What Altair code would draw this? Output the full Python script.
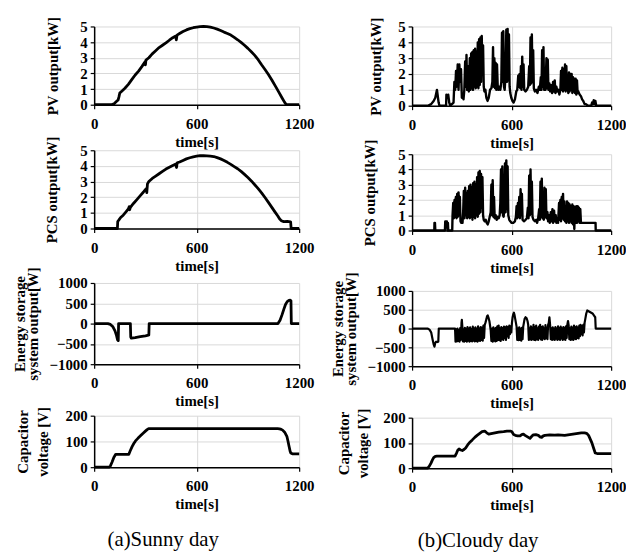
import altair as alt
import pandas as pd

FONT = "Liberation Serif"

# ---------------- data: (time [s], value) ----------------
PV_SUNNY = [(0, 0), (100, 0), (115, 0.05), (130, 0.2), (140, 0.3), (145, 0.5), (150, 0.75), (160, 0.85),
            (180, 1.05), (200, 1.3), (220, 1.6), (240, 1.9), (260, 2.15), (280, 2.45), (298, 2.75), (300, 2.55),
            (303, 2.85), (320, 3.0), (340, 3.25), (360, 3.45), (380, 3.65), (400, 3.8), (420, 3.95), (440, 4.12),
            (460, 4.28), (478, 4.4), (481, 4.15), (485, 4.45), (500, 4.55), (520, 4.68), (540, 4.78), (560, 4.86),
            (580, 4.92), (600, 4.96), (620, 4.99), (640, 5.0), (660, 4.99), (680, 4.96), (700, 4.9), (720, 4.83),
            (740, 4.74), (760, 4.64), (780, 4.55), (800, 4.45), (820, 4.3), (840, 4.15), (860, 3.98), (880, 3.8),
            (900, 3.6), (920, 3.38), (940, 3.15), (960, 2.88), (980, 2.55), (1000, 2.25), (1020, 1.93),
            (1040, 1.58), (1060, 1.2), (1080, 0.82), (1100, 0.43), (1115, 0.15), (1125, 0), (1200, 0)]

PCS_SUNNY = [(0, 0), (136, 0), (138, 0.45), (145, 0.55), (155, 0.7), (170, 0.85), (185, 1.05), (200, 1.25),
             (205, 1.4), (208, 1.2), (212, 1.35), (230, 1.6), (250, 1.85), (270, 2.1), (290, 2.35), (305, 2.55),
             (308, 2.3), (312, 2.85), (320, 3.0), (340, 3.2), (360, 3.35), (380, 3.5), (400, 3.65), (420, 3.8),
             (440, 3.92), (460, 4.03), (478, 4.12), (482, 3.9), (486, 4.2), (500, 4.25), (520, 4.35), (540, 4.45),
             (560, 4.52), (580, 4.58), (600, 4.62), (620, 4.65), (640, 4.66), (660, 4.64), (680, 4.62), (700, 4.6),
             (720, 4.53), (740, 4.45), (760, 4.35), (780, 4.23), (800, 4.1), (820, 3.96), (840, 3.82), (860, 3.65),
             (880, 3.46), (900, 3.26), (920, 3.04), (940, 2.8), (960, 2.55), (980, 2.28), (1000, 1.98),
             (1020, 1.67), (1040, 1.35), (1060, 1.03), (1075, 0.8), (1085, 0.62), (1095, 0.5), (1110, 0.44),
             (1130, 0.45), (1150, 0.42), (1153, 0), (1200, 0)]

ESS_SUNNY = [(0, 0), (80, 0), (95, -20), (110, -80), (122, -180), (130, -280), (137, -400), (141, -420),
             (143, 0), (212, 0), (214, -330), (218, -360), (240, -345), (270, -320), (300, -300), (318, -285),
             (320, -280), (322, 0), (1076, 0), (1088, 80), (1100, 220), (1110, 350), (1120, 470), (1130, 540),
             (1140, 570), (1148, 575), (1152, 560), (1154, 0), (1200, 0)]

CAP_SUNNY = [(0, 0), (87, 0), (95, 5), (105, 20), (115, 38), (126, 50), (203, 50), (210, 62), (222, 80),
             (232, 92), (242, 102), (256, 112), (271, 122), (285, 131), (300, 140), (310, 146), (319, 150),
             (1073, 150), (1085, 149), (1095, 147), (1103, 144), (1115, 136), (1128, 120), (1135, 100),
             (1141, 80), (1147, 62), (1151, 55), (1160, 52), (1200, 52)]

PV_CLOUDY = [(0, 0), (95, 0), (115, 0.1), (130, 0.3), (140, 0.5), (150, 1.0), (155, 0.6), (160, 0.2), (165, 0),
             (205, 0), (207, 0.7), (212, 0.5), (218, 0.7), (224, 0.2), (230, 0), (250, 0.2), (255, 1.5),
             (260, 1.0), (265, 2.2), (270, 1.2), (275, 2.6), (280, 1.0), (285, 2.6), (290, 1.5), (295, 2.3),
             (300, 0.5), (305, 0.7), (310, 0.4), (315, 1.0), (320, 2.8), (325, 1.2), (328, 3.2), (332, 1.0),
             (338, 2.5), (342, 0.9), (348, 3.0), (352, 1.0), (356, 3.3), (360, 1.1), (364, 3.4), (368, 1.0),
             (372, 3.5), (376, 1.2), (380, 3.6), (384, 1.1), (388, 3.4), (392, 1.2), (396, 4.0), (400, 1.1),
             (404, 4.2), (408, 1.3), (412, 4.3), (416, 1.5), (420, 4.4), (424, 2.0), (428, 3.8), (432, 1.2),
             (436, 0.9), (442, 1.0), (448, 0.5), (455, 0.3), (462, 0.5), (470, 1.0), (478, 1.1), (484, 1.5),
             (488, 3.7), (492, 1.2), (496, 3.0), (500, 1.1), (504, 2.7), (508, 1.0), (512, 2.6), (516, 1.3),
             (520, 1.0), (526, 1.2), (532, 1.0), (538, 1.5), (542, 4.6), (546, 1.5), (550, 4.7), (554, 1.2),
             (558, 1.0), (564, 2.0), (568, 4.8), (572, 1.5), (576, 4.85), (580, 1.6), (584, 4.5), (588, 1.2),
             (592, 0.8), (598, 0.5), (605, 0.3), (612, 0.2), (620, 0.4), (628, 0.9), (634, 1.0), (640, 1.9),
             (644, 1.2), (648, 2.0), (652, 1.1), (656, 2.5), (660, 1.0), (664, 3.1), (668, 1.2), (672, 2.6),
             (676, 1.0), (684, 0.9), (692, 1.0), (700, 1.2), (706, 2.5), (710, 1.3), (714, 4.3), (718, 1.4),
             (722, 4.5), (726, 1.5), (730, 3.5), (734, 1.1), (740, 0.9), (748, 1.0), (756, 0.8), (764, 1.2),
             (770, 1.0), (776, 1.8), (780, 1.0), (784, 3.5), (788, 1.2), (792, 3.7), (796, 1.0), (800, 2.0),
             (804, 1.0), (810, 3.0), (814, 1.1), (818, 2.9), (822, 1.0), (828, 1.4), (832, 0.9), (838, 1.3),
             (844, 0.8), (850, 1.5), (854, 0.9), (860, 1.6), (864, 0.8), (870, 1.2), (876, 0.9), (882, 1.0),
             (888, 0.7), (894, 1.0), (898, 2.2), (902, 1.0), (906, 2.4), (910, 0.9), (914, 2.3), (918, 1.0),
             (922, 2.6), (926, 0.9), (930, 2.5), (934, 1.0), (938, 1.2), (942, 0.8), (946, 2.1), (950, 0.9),
             (954, 2.0), (958, 1.0), (962, 2.0), (966, 0.8), (970, 1.8), (974, 0.9), (978, 1.7), (982, 0.8),
             (986, 1.7), (990, 0.7), (994, 1.6), (998, 0.8), (1002, 0.9), (1010, 0.7), (1018, 0.6), (1025, 0.4),
             (1032, 0.3), (1040, 0.1), (1048, 0.1), (1060, 0), (1080, 0), (1085, 0.2), (1090, 0.1), (1095, 0.35),
             (1100, 0.1), (1105, 0.3), (1110, 0), (1200, 0)]

PCS_CLOUDY = [(0, 0), (134, 0), (135, 0.5), (138, 0.5), (140, 0), (198, 0), (200, 0.6), (210, 0.6), (214, 0),
              (216, 0.5), (218, 0), (242, 0), (244, 1.0), (248, 1.8), (252, 0.8), (256, 2.0), (260, 0.9),
              (264, 2.2), (268, 0.8), (272, 2.4), (276, 0.9), (280, 2.5), (284, 1.0), (288, 2.2), (292, 0.6),
              (296, 0.5), (300, 0.7), (304, 0.5), (308, 1.2), (312, 2.6), (316, 0.8), (320, 2.8), (324, 1.0),
              (328, 2.4), (332, 0.8), (336, 2.6), (340, 0.9), (344, 2.9), (348, 0.8), (352, 3.0), (356, 0.9),
              (360, 2.8), (364, 0.7), (368, 3.1), (372, 0.9), (376, 3.2), (380, 0.8), (384, 3.0), (388, 1.0),
              (392, 3.5), (396, 0.9), (400, 3.8), (404, 1.1), (408, 3.9), (412, 1.2), (416, 3.7), (420, 1.5),
              (424, 3.5), (428, 1.0), (432, 0.7), (438, 0.6), (444, 0.7), (450, 0.5), (456, 0.4), (462, 0.6),
              (468, 0.9), (474, 1.2), (478, 3.0), (482, 1.0), (486, 3.3), (490, 0.9), (494, 2.2), (498, 0.8),
              (504, 1.0), (510, 0.7), (516, 0.9), (522, 0.8), (528, 1.0), (532, 1.8), (536, 4.0), (540, 1.2),
              (544, 4.2), (548, 1.0), (552, 0.9), (556, 1.5), (560, 4.4), (564, 1.2), (568, 4.6), (572, 1.4),
              (576, 4.2), (580, 1.0), (586, 0.7), (592, 0.6), (600, 0.5), (610, 0.5), (620, 0.6), (626, 0.9),
              (630, 1.6), (634, 0.8), (638, 1.8), (642, 0.9), (646, 2.2), (650, 0.8), (654, 2.7), (658, 1.0),
              (662, 2.4), (666, 0.7), (674, 0.6), (684, 0.7), (692, 0.8), (698, 1.5), (702, 0.8), (706, 3.6),
              (710, 1.0), (714, 4.0), (718, 1.1), (722, 3.2), (726, 0.9), (732, 0.7), (740, 0.6), (748, 0.7),
              (754, 0.5), (760, 0.8), (766, 1.4), (770, 0.7), (774, 3.2), (778, 0.9), (782, 3.4), (786, 0.8),
              (790, 1.6), (794, 0.7), (798, 2.8), (802, 0.9), (806, 2.7), (810, 0.8), (816, 1.2), (820, 0.6),
              (826, 1.0), (830, 0.5), (836, 1.2), (840, 0.6), (846, 1.4), (850, 0.5), (856, 1.3), (860, 0.6),
              (866, 1.0), (870, 0.5), (876, 0.8), (880, 0.5), (886, 1.8), (890, 0.7), (894, 2.0), (898, 0.6),
              (902, 2.2), (906, 0.8), (910, 2.4), (914, 0.7), (918, 1.9), (922, 0.6), (926, 1.0), (930, 0.5),
              (934, 1.9), (938, 0.6), (942, 1.8), (946, 0.5), (950, 1.7), (954, 0.6), (958, 1.6), (962, 0.5),
              (966, 1.7), (970, 0.4), (974, 1.6), (978, 0.1), (982, 1.5), (986, 0.5), (990, 1.6), (994, 0.5),
              (998, 1.6), (1002, 0.6), (1006, 1.5), (1010, 0.5), (1014, 1.4), (1018, 0.5), (1026, 0.5),
              (1040, 0.5), (1060, 0.5), (1080, 0.5), (1100, 0.5), (1106, 0.5), (1107, 0), (1200, 0)]

ESS_CLOUDY = [(0, 0), (93, 0), (105, -30), (115, -100), (124, -300), (130, -420), (135, -480), (140, -380),
              (145, -350), (152, -360), (158, -350), (161, 0), (259, 0),
              (262, -350), (266, -20), (270, -340), (274, 0), (278, -330), (282, -40), (286, -350), (290, 10),
              (294, -300), (298, 150), (300, 230), (303, 50),
              (306, -340), (310, -30), (314, -350), (318, 20), (322, -330), (326, -10), (330, -350), (334, 40),
              (338, -320), (342, 0), (346, -350), (350, 30), (354, -330), (358, -20), (362, -340), (366, 50),
              (370, -320), (374, 0), (378, -340), (382, 30), (386, -330), (390, -10), (394, -350), (398, 60),
              (402, -320), (406, 0), (410, -330), (414, 40), (418, -300), (422, 20), (426, -320), (430, 80),
              (434, -250), (438, 100),
              (442, 150), (448, 250), (452, 330), (456, 350), (460, 300), (466, 200), (470, 80), (474, -50),
              (478, -330), (482, 0), (486, -350), (490, 30), (494, -320), (498, -10), (502, -340), (506, 20),
              (510, -330), (514, 60), (518, -300), (522, 80), (526, -310), (530, 0), (534, -330), (538, 40),
              (542, -280), (546, 10), (550, -300), (554, 50), (558, -250), (562, 30), (566, -300), (570, 60),
              (574, -200), (578, 40), (582, -250), (586, 80), (590, -150), (594, 60), (598, -100),
              (602, 150), (606, 300), (610, 380), (614, 420), (618, 350), (622, 250), (626, 150), (630, 50),
              (634, -300), (638, 0), (642, -310), (646, 30), (650, -300), (654, -10), (658, -320), (662, 20),
              (666, -280), (670, 50),
              (674, 150), (678, 250), (684, 300), (690, 280), (696, 200), (700, 100),
              (704, -300), (708, 0), (712, -290), (716, 60), (720, -300), (724, 20), (728, -280), (732, 100),
              (736, -300), (740, 30), (744, -310), (748, 80), (752, -280), (756, 0), (760, -300), (764, 50),
              (768, -250), (772, 100), (776, -290), (780, 30), (784, -300), (788, 60), (792, -260), (796, 0),
              (800, -280), (804, 90), (808, -250), (812, 20), (816, -280), (820, 100), (824, 150), (828, 300),
              (832, 100),
              (836, -280), (840, 0), (844, -300), (848, 30), (852, -290), (856, -10), (860, -300), (864, 40),
              (868, -270), (872, 0), (876, -300), (880, 60), (884, -280), (888, 10), (892, -300), (896, 50),
              (900, -260), (904, 0), (908, -300), (912, 40), (916, -280), (920, 20), (924, -300), (928, 60),
              (932, -250), (936, 100), (940, 200), (944, 80),
              (948, -280), (952, 0), (956, -300), (960, 50), (964, -290), (968, 20), (972, -300), (976, 80),
              (980, -270), (984, 30), (988, -280), (992, 60), (996, -250), (1000, 20), (1004, -260), (1008, 80),
              (1012, -200), (1016, 100), (1020, -150), (1024, 60), (1028, -180), (1032, 100), (1036, -100),
              (1040, 150),
              (1044, 250), (1050, 400), (1056, 480), (1064, 460), (1072, 440), (1080, 420), (1088, 400),
              (1096, 350), (1104, 300), (1107, 0), (1200, 0)]

CAP_CLOUDY = [(0, 0), (94, 0), (104, 8), (114, 20), (122, 32), (130, 42), (140, 47), (150, 48), (259, 48),
              (268, 60), (276, 72), (283, 76), (293, 72), (303, 70), (313, 74), (323, 80), (335, 92), (350, 104),
              (363, 112), (378, 122), (392, 130), (408, 138), (422, 145), (438, 147), (450, 140), (462, 135),
              (477, 137), (492, 139), (507, 141), (522, 143), (537, 144), (552, 145), (572, 147), (592, 147),
              (602, 144), (612, 133), (622, 130), (636, 128), (651, 128), (661, 133), (671, 135), (681, 130),
              (691, 126), (701, 122), (711, 118), (721, 126), (731, 132), (746, 133), (761, 130), (771, 124),
              (781, 122), (791, 128), (801, 130), (830, 132), (860, 131), (880, 132), (900, 131), (920, 130),
              (940, 132), (960, 134), (980, 136), (1000, 138), (1020, 140), (1040, 140), (1052, 138), (1064, 130),
              (1074, 115), (1084, 100), (1094, 80), (1104, 60), (1115, 58), (1200, 58)]

X_TICKS = [0, 600, 1200]
KW_TICKS = [0, 1, 2, 3, 4, 5]
W_TICKS = [-1000, -500, 0, 500, 1000]
V_TICKS = [0, 100, 200]


def panel(data, ydom, yticks, ytitle, w, h, tpad, lh=15, sw=2.8):
    df = pd.DataFrame(data, columns=["t", "v"])
    return alt.Chart(df).mark_line(color="black", strokeWidth=sw, strokeJoin="round").encode(
        x=alt.X("t:Q", scale=alt.Scale(domain=[0, 1200], nice=False),
                axis=alt.Axis(values=X_TICKS, format="d", title="time[s]", labelFlush=False,
                              labelPadding=8, titlePadding=3)),
        y=alt.Y("v:Q", scale=alt.Scale(domain=ydom, nice=False),
                axis=alt.Axis(values=yticks, format="d", title=ytitle, titlePadding=tpad,
                              titleLineHeight=lh, minExtent=30, maxExtent=30, labelPadding=3)),
    ).properties(width=w, height=h)


LW, RW = 207, 201

p1 = panel(PV_SUNNY, [0, 5], KW_TICKS, "PV output[kW]", LW, 79, 4.5)
p3 = panel(PCS_SUNNY, [0, 5], KW_TICKS, "PCS output[kW]", LW, 79, 5.5)
p5 = panel(ESS_SUNNY, [-1000, 1000], W_TICKS, ["Energy storage", "system output[W]"], LW, 82, 24, lh=13.5)
p7 = panel(CAP_SUNNY, [0, 200], V_TICKS, ["Capacitor", "voltage [V]"], LW, 52, 14, lh=20)

p2 = panel(PV_CLOUDY, [0, 5], KW_TICKS, "PV output[kW]", RW, 80, -1.5, sw=2.4)
p4 = panel(PCS_CLOUDY, [0, 5], KW_TICKS, "PCS output[kW]", RW, 77, 4.5, sw=2.4)
p6 = panel(ESS_CLOUDY, [-1000, 1000], W_TICKS, ["Energy storage", "system output[W]"], RW, 76, 24, lh=13.5, sw=2.2)
p8 = panel(CAP_CLOUDY, [0, 200], V_TICKS, ["Capacitor", "voltage [V]"], RW, 51, 11.5, lh=20)


def caption(text):
    return alt.TitleParams(text=text, orient="bottom", anchor="middle", font=FONT, fontSize=21,
                           fontWeight="normal", color="black", offset=18)


left = alt.vconcat(
    p1,
    alt.vconcat(p3, alt.vconcat(p5, p7, spacing=52, bounds="flush"), spacing=55, bounds="flush"),
    spacing=46, bounds="flush", title=caption("(a)Sunny day"))
right = alt.vconcat(
    p2,
    alt.vconcat(p4, alt.vconcat(p6, p8, spacing=52, bounds="flush"), spacing=61, bounds="flush"),
    spacing=49, bounds="flush", title=caption("(b)Cloudy day"))

chart = alt.hconcat(left, right, spacing=16).properties(
    padding={"left": 4, "top": 5, "right": 0, "bottom": 0}
).configure_view(strokeWidth=0).configure_axis(
    labelFont=FONT, titleFont=FONT, labelFontSize=15, titleFontSize=15,
    labelFontWeight="bold", titleFontWeight="bold", labelColor="black", titleColor="black",
    domainColor="black", domainWidth=1.5, tickColor="black", tickWidth=1.2, tickSize=4,
    gridColor="#d9d9d9", gridWidth=1,
)

chart.save("out.html", embed_options={"renderer": "svg", "actions": False})
